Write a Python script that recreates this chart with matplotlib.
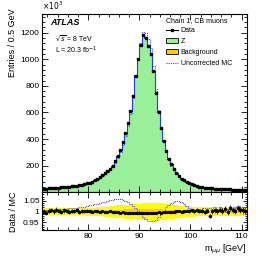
import numpy as np
import matplotlib
matplotlib.use("Agg")
import matplotlib.pyplot as plt
from matplotlib.lines import Line2D
from matplotlib.patches import Patch
from matplotlib.ticker import MultipleLocator

plt.rcParams['font.family'] = ['Liberation Sans', 'DejaVu Sans']

# binning: 0.5 GeV bins from 71 to 111 GeV
edges = np.arange(71.0, 111.01, 0.5)
centers = 0.5 * (edges[:-1] + edges[1:])

# Z MC (entries x 1e3)
z_mc = [26, 27, 28, 29, 30, 32, 33, 35, 37, 39,
        41, 43, 46, 49, 52, 56, 60, 65, 71, 78,
        90, 100, 112, 126, 142, 158, 177, 200, 235, 275,
        320, 375, 445, 520, 610, 730, 880, 1010, 1115, 1185,
        1165, 1105, 1040, 910, 750, 600, 480, 385, 310, 252,
        208, 172, 143, 120, 102, 88, 76, 66, 58, 52,
        47, 42, 38, 35, 32, 30, 28, 26, 25, 24,
        23, 22, 21, 20, 19, 18, 18, 17, 16, 16]

# background (entries x 1e3)
bkg = [1.5, 1.5, 1.5, 1.5, 1.4, 1.4, 1.4, 1.4, 1.4, 1.4,
       1.3, 1.3, 1.3, 1.3, 1.3, 1.3, 1.3, 1.3, 1.3, 1.3,
       1.3, 1.3, 1.3, 1.3, 1.3, 1.3, 1.4, 1.4, 1.4, 1.5,
       1.5, 1.6, 1.7, 1.8, 1.9, 2.0, 2.1, 2.2, 2.3, 2.3,
       2.3, 2.2, 2.1, 2.0, 1.9, 1.8, 1.7, 1.6, 1.5, 1.4,
       1.3, 1.3, 1.2, 1.2, 1.1, 1.1, 1.1, 1.0, 1.0, 1.0,
       1.0, 1.0, 1.0, 0.9, 0.9, 0.9, 0.9, 0.9, 0.9, 0.9,
       0.9, 0.9, 0.9, 0.9, 0.9, 0.8, 0.8, 0.8, 0.8, 0.8]

# Data / MC
ratio = [1.000, 0.995, 1.005, 1.008, 1.002, 1.010, 1.004, 0.998, 1.006, 1.003,
         1.000, 1.004, 1.002, 1.006, 0.999, 1.003, 1.001, 1.004, 1.002, 1.000,
         1.003, 1.001, 0.999, 1.002, 1.000, 0.998, 1.001, 0.999, 0.997, 0.998,
         0.996, 0.997, 0.995, 0.994, 0.993, 0.992, 0.994, 0.993, 0.992, 0.994,
         0.993, 0.995, 0.994, 0.996, 0.995, 0.997, 0.996, 0.998, 0.997, 0.999,
         1.000, 0.998, 1.001, 1.003, 1.000, 1.002, 1.004, 1.001, 1.006, 1.003,
         1.008, 1.002, 1.005, 0.999, 1.004, 0.980, 1.003, 1.007, 1.002, 1.010,
         1.004, 1.012, 1.000, 1.015, 1.008, 1.003, 1.018, 1.010, 1.006, 1.004]

# Data / uncorrected MC
ratio_uncorr = [1.005, 1.006, 1.007, 1.008, 1.009, 1.010, 1.011, 1.012, 1.013, 1.014,
                1.015, 1.016, 1.017, 1.018, 1.020, 1.022, 1.024, 1.026, 1.029, 1.032,
                1.035, 1.038, 1.041, 1.044, 1.047, 1.050, 1.053, 1.055, 1.057, 1.058,
                1.057, 1.055, 1.051, 1.045, 1.037, 1.027, 1.015, 1.003, 0.990, 0.977,
                0.966, 0.958, 0.955, 0.957, 0.963, 0.975, 0.990, 1.005, 1.020, 1.032,
                1.041, 1.047, 1.050, 1.049, 1.044, 1.036, 1.027, 1.019, 1.013, 1.010,
                1.010, 1.012, 1.008, 1.015, 1.010, 1.018, 1.012, 1.020, 1.014, 1.022,
                1.016, 1.024, 1.012, 1.026, 1.018, 1.020, 1.028, 1.015, 1.022, 1.018]

# systematic band half-widths (outer yellow, inner orange)
band_outer = [0.015, 0.015, 0.015, 0.015, 0.015, 0.015, 0.015, 0.015, 0.015, 0.015,
              0.015, 0.015, 0.016, 0.016, 0.016, 0.017, 0.017, 0.018, 0.018, 0.019,
              0.019, 0.020, 0.021, 0.022, 0.023, 0.024, 0.025, 0.027, 0.028, 0.029,
              0.030, 0.031, 0.032, 0.033, 0.034, 0.035, 0.036, 0.037, 0.038, 0.039,
              0.040, 0.040, 0.041, 0.041, 0.041, 0.041, 0.040, 0.039, 0.038, 0.036,
              0.034, 0.032, 0.030, 0.028, 0.027, 0.026, 0.025, 0.024, 0.023, 0.023,
              0.022, 0.022, 0.022, 0.021, 0.021, 0.021, 0.021, 0.021, 0.021, 0.021,
              0.021, 0.021, 0.021, 0.021, 0.021, 0.021, 0.021, 0.021, 0.021, 0.021]
band_inner = [0.005, 0.005, 0.005, 0.005, 0.005, 0.005, 0.005, 0.005, 0.005, 0.005,
              0.005, 0.005, 0.005, 0.005, 0.005, 0.005, 0.006, 0.006, 0.006, 0.006,
              0.006, 0.006, 0.007, 0.007, 0.007, 0.008, 0.008, 0.009, 0.009, 0.010,
              0.010, 0.010, 0.011, 0.011, 0.011, 0.011, 0.011, 0.011, 0.011, 0.011,
              0.011, 0.011, 0.011, 0.011, 0.011, 0.011, 0.011, 0.010, 0.010, 0.010,
              0.009, 0.009, 0.008, 0.008, 0.007, 0.007, 0.007, 0.006, 0.006, 0.006,
              0.006, 0.006, 0.006, 0.006, 0.006, 0.006, 0.006, 0.006, 0.006, 0.006,
              0.006, 0.006, 0.006, 0.006, 0.006, 0.006, 0.006, 0.006, 0.006, 0.006]

z_mc = np.array(z_mc, float)
bkg = np.array(bkg, float)
ratio = np.array(ratio)
ratio_uncorr = np.array(ratio_uncorr)
mc_tot = z_mc + bkg
data = mc_tot * ratio
uncorr = data / ratio_uncorr
ratio_err = 1.0 / np.sqrt(data * 1e3) * 2.0
band_outer = np.array(band_outer)
band_inner = np.array(band_inner)

GREEN = "#99f099"
GOLD = "#ffcc00"
BLUE = "#3a3aff"

W, H = 266, 257
fig = plt.figure(figsize=(W / 100, H / 100), dpi=100)
L, R = 42.3, 246.7
ax = fig.add_axes([L / W, 1 - 192.3 / H, (R - L) / W, (192.3 - 14) / H])
axr = fig.add_axes([L / W, 1 - 230 / H, (R - L) / W, (230 - 192.3) / H])


def step_vals(v):
    return np.append(v, v[-1])


# main panel
ax.fill_between(edges, 0, step_vals(mc_tot), step="post", color=GREEN, lw=0)
ax.fill_between(edges, 0, step_vals(bkg), step="post", color=GOLD, lw=0)
ax.step(edges, step_vals(bkg), where="post", color="#8b4513", lw=0.6)
ax.step(edges, step_vals(mc_tot), where="post", color="#1a3acc", lw=0.8)
ax.step(edges, step_vals(uncorr), where="post", color=BLUE, lw=0.7, ls=(0, (1, 1)))
ax.errorbar(centers, data, xerr=0.25, yerr=np.sqrt(data / 1e3),
            fmt="s", ms=2, color="black", lw=0.7, capsize=0)

ax.set_xlim(71, 111)
ax.set_ylim(0, 1340)
ax.yaxis.set_major_locator(MultipleLocator(200))
ax.yaxis.set_minor_locator(MultipleLocator(40))
ax.set_yticks([200, 400, 600, 800, 1000, 1200])

# ratio panel
axr.fill_between(edges, step_vals(1 - band_outer), step_vals(1 + band_outer),
                 step="post", color="#ffff00", lw=0)
axr.fill_between(edges, step_vals(1 - band_inner), step_vals(1 + band_inner),
                 step="post", color=GOLD, lw=0)
axr.step(edges, step_vals(ratio_uncorr), where="post", color=BLUE, lw=0.7,
         ls=(0, (1, 1)))
axr.errorbar(centers, ratio, xerr=0.25, yerr=ratio_err, fmt="s", ms=1.3,
             color="black", lw=0.5, capsize=0)
axr.set_xlim(71, 111)
axr.set_ylim(0.915, 1.09)
axr.set_yticks([0.95, 1.0, 1.05])
axr.set_yticklabels(["0.95", "1", "1.05"])
axr.yaxis.set_minor_locator(MultipleLocator(0.01))

for a in (ax, axr):
    a.xaxis.set_major_locator(MultipleLocator(10))
    a.xaxis.set_minor_locator(MultipleLocator(2))
    a.tick_params(which="both", direction="in", top=True, right=True,
                  labelsize=6, width=0.6, pad=2)
    a.tick_params(which="major", length=4)
    a.tick_params(which="minor", length=2)
    for s in a.spines.values():
        s.set_linewidth(0.8)
ax.tick_params(labelbottom=False)
axr.tick_params(which="major", axis="y", length=3)
axr.tick_params(which="minor", axis="y", length=1.5)

# texts
ax.text(0.038, 0.955, "ATLAS", transform=ax.transAxes, fontsize=6.5,
        fontweight="bold", fontstyle="italic", va="center")
ax.text(0.062, 0.866, r"$\sqrt{s}$ = 8 TeV", transform=ax.transAxes,
        fontsize=5, va="center")
ax.text(0.062, 0.795, r"L = 20.3 fb$^{-1}$", transform=ax.transAxes,
        fontsize=5, va="center")
fig.text(42 / W, 1 - 6 / H, r"$\times10^{3}$", fontsize=5.5, va="center")
fig.text(13 / W, 1 - 8 / H, "Entries / 0.5 GeV", rotation=90, fontsize=6.5,
         ha="center", va="top")
fig.text(13 / W, 1 - 212 / H, "Data / MC", rotation=90, fontsize=6.5,
         ha="center", va="center")
fig.text(R / W, 1 - 249 / H, r"m$_{\mu\mu}$ [GeV]", fontsize=6.5,
         ha="right", va="center")

handles = [
    Line2D([], [], color="black", marker="s", ms=2, lw=0.8),
    Patch(facecolor=GREEN, edgecolor="black", lw=0.6),
    Patch(facecolor=GOLD, edgecolor="black", lw=0.6),
    Line2D([], [], color=BLUE, lw=0.8, ls=(0, (1, 1))),
]
leg = ax.legend(handles, ["Data", "Z", "Background", "Uncorrected MC"],
                title="Chain 1, CB muons", loc="upper left",
                bbox_to_anchor=(0.605, 0.985), frameon=False, fontsize=5,
                title_fontsize=5, handlelength=1.8, handletextpad=0.3,
                labelspacing=0.55, borderpad=0, borderaxespad=0)
leg._legend_box.align = "left"

fig.savefig("out.png", dpi=100)
